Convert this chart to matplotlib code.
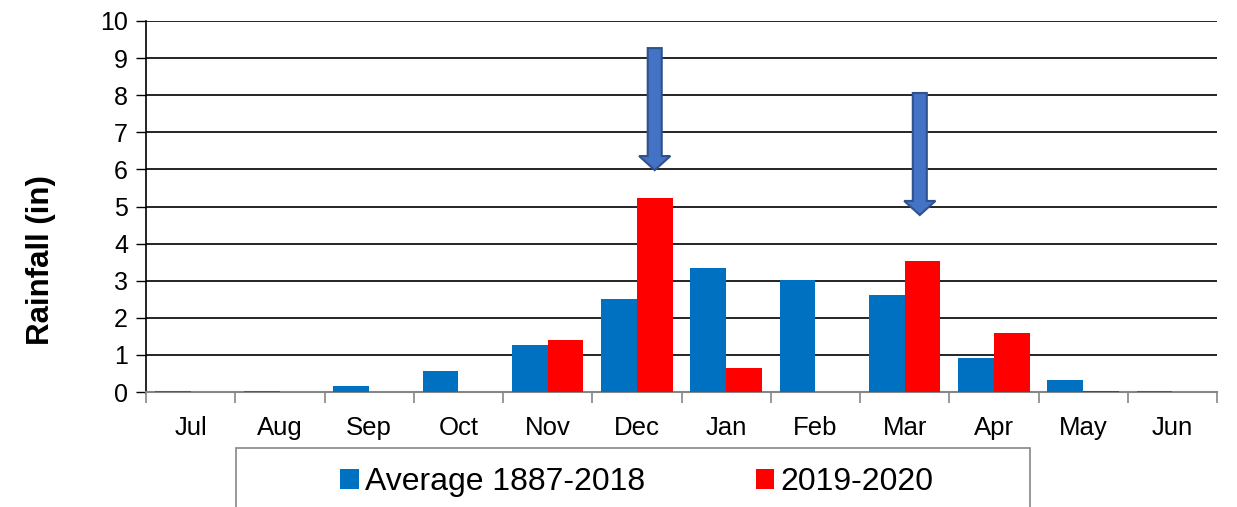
import matplotlib.pyplot as plt
import matplotlib.patches as mpatches
import numpy as np

plt.rcParams['font.family'] = ['Liberation Sans', 'DejaVu Sans']

months = ['Jul', 'Aug', 'Sep', 'Oct', 'Nov', 'Dec', 'Jan', 'Feb', 'Mar', 'Apr', 'May', 'Jun']
avg = [0.03, 0.03, 0.17, 0.56, 1.27, 2.5, 3.34, 3.02, 2.61, 0.92, 0.33, 0.03]
season = [0, 0, 0, 0, 1.4, 5.23, 0.65, 0, 3.53, 1.59, 0.03, 0]

# arrows pointing at the two big months (x index, top, tip)
arrow_x = [5.2, 8.17]
arrow_top = [9.27, 8.06]
arrow_tip = [5.98, 4.77]

blue = '#0070C0'
red = '#FF0000'

fig = plt.figure(figsize=(12.37, 5.07), dpi=100)
ax = fig.add_axes([146 / 1237, 1 - 392 / 507, (1217 - 146) / 1237, (392 - 21) / 507])

x = np.arange(len(months))
w = 0.4
ax.bar(x - w / 2, avg, w, color=blue, label='Average 1887-2018', zorder=3)
ax.bar(x + w / 2, season, w, color=red, label='2019-2020', zorder=3)

for xa, top, tip in zip(arrow_x, arrow_top, arrow_tip):
    hl = 0.38
    ax.arrow(xa, top, 0, tip - top + hl, width=0.157, head_width=0.35, head_length=hl,
             length_includes_head=False, fc='#4472C4', ec='#2F528F', lw=1.5, zorder=4)

ax.set_xlim(-0.5, len(months) - 0.5)
ax.set_ylim(0, 10)
ax.set_yticks(range(0, 11))
ax.yaxis.grid(True, color='black', lw=1.2, zorder=0)
ax.tick_params(axis='y', labelsize=18, length=7, width=1, direction='out', pad=6)

ax.set_xticks(x)
ax.set_xticklabels(months)
ax.set_xticks(np.arange(-0.5, len(months)), minor=True)
ax.tick_params(axis='x', which='major', length=0, labelsize=18.5, pad=17)
ax.tick_params(axis='x', which='minor', length=8, width=1.2, color='#868686')

for s in ['top', 'right']:
    ax.spines[s].set_visible(False)
ax.spines['left'].set_color('black')
ax.spines['left'].set_linewidth(1.2)
ax.spines['bottom'].set_color('#868686')
ax.spines['bottom'].set_linewidth(1.5)

ax.set_ylabel('Rainfall (in)', fontsize=22.5, fontweight='bold')
ax.yaxis.set_label_coords(-(146 - 56) / 1071, (392 - 260) / 371)

# legend box runs off the bottom of the image
box = mpatches.Rectangle((236 / 1237, -0.1), (1030 - 236) / 1237, 0.1 + 1 - 448 / 507,
                         transform=fig.transFigure, fill=False, ec='#868686', lw=1.2)
fig.patches.append(box)
fig.legend(loc='center', bbox_to_anchor=(637 / 1237, 1 - 482 / 507), ncol=2, frameon=False,
           fontsize=23, handlelength=0.58, handleheight=0.58, handletextpad=0.2,
           columnspacing=3.45)

fig.savefig('out.png', dpi=100)
